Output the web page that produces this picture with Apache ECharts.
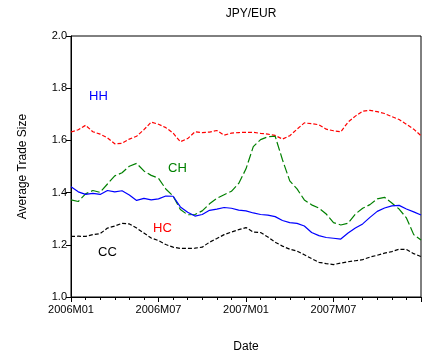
<!DOCTYPE html>
<html>
<head>
<meta charset="utf-8">
<script src="https://cdn.jsdelivr.net/npm/echarts@6/dist/echarts.min.js"></script>
<style>
  html, body { margin: 0; padding: 0; background: #fff; }
  #chart { width: 430px; height: 360px; }
</style>
</head>
<body>
<div id="chart"></div>
<script>
// Position of each observation in months since 2006M01 (half-month steps)
const monthPos = [0, 0.5, 1, 1.5, 2, 2.5, 3, 3.5, 4, 4.5, 5, 5.5, 6, 6.5, 7, 7.5,
  8, 8.5, 9, 9.5, 10, 10.5, 11, 11.5, 12, 12.5, 13, 13.5, 14, 14.5, 15, 15.5,
  16, 16.5, 17, 17.5, 18, 18.5, 19, 19.5, 20, 20.5, 21, 21.5, 22, 22.5, 23, 23.5, 24];

// Month labels for the major ticks (every six months)
const tickLabels = ['2006M01', '2006M07', '2007M01', '2007M07'];

// Average trade size, JPY/EUR
const seriesHH = [1.632, 1.641, 1.658, 1.633, 1.624, 1.610, 1.587, 1.589, 1.605, 1.616,
  1.641, 1.670, 1.662, 1.649, 1.628, 1.595, 1.607, 1.633, 1.630, 1.632,
  1.638, 1.620, 1.628, 1.630, 1.631, 1.631, 1.627, 1.624, 1.619, 1.605,
  1.618, 1.643, 1.667, 1.664, 1.660, 1.643, 1.637, 1.633, 1.670, 1.693,
  1.712, 1.715, 1.710, 1.703, 1.691, 1.680, 1.662, 1.643, 1.618];

const seriesCH = [1.372, 1.366, 1.395, 1.408, 1.401, 1.433, 1.464, 1.476, 1.501, 1.512,
  1.483, 1.466, 1.455, 1.414, 1.387, 1.335, 1.315, 1.316, 1.330, 1.357,
  1.378, 1.392, 1.405, 1.435, 1.491, 1.576, 1.603, 1.614, 1.616, 1.526,
  1.445, 1.414, 1.372, 1.353, 1.341, 1.318, 1.285, 1.276, 1.283, 1.318,
  1.340, 1.354, 1.376, 1.382, 1.360, 1.337, 1.303, 1.239, 1.218];

const seriesHC = [1.422, 1.403, 1.393, 1.397, 1.393, 1.408, 1.403, 1.407, 1.391, 1.370,
  1.378, 1.372, 1.376, 1.387, 1.386, 1.345, 1.325, 1.310, 1.316, 1.332,
  1.337, 1.343, 1.340, 1.333, 1.330, 1.322, 1.316, 1.314, 1.308, 1.293,
  1.285, 1.282, 1.272, 1.247, 1.235, 1.228, 1.225, 1.222, 1.245, 1.264,
  1.280, 1.305, 1.328, 1.341, 1.349, 1.351, 1.337, 1.326, 1.314];

const seriesCC = [1.232, 1.233, 1.232, 1.239, 1.243, 1.264, 1.272, 1.282, 1.280, 1.264,
  1.245, 1.226, 1.216, 1.201, 1.191, 1.186, 1.186, 1.187, 1.191, 1.210,
  1.224, 1.239, 1.249, 1.258, 1.266, 1.249, 1.247, 1.230, 1.210, 1.195,
  1.183, 1.176, 1.162, 1.147, 1.133, 1.128, 1.124, 1.130, 1.135, 1.139,
  1.143, 1.153, 1.160, 1.168, 1.174, 1.183, 1.182, 1.166, 1.155];

const FONT = 'Liberation Sans, Arial, sans-serif';

function pairs(values) {
  return values.map((v, i) => [monthPos[i], v]);
}

function lineSeries(name, values, color, dash) {
  return {
    name: name,
    type: 'line',
    data: pairs(values),
    showSymbol: false,
    animation: false,
    lineStyle: { color: color, width: 1.2, type: dash }
  };
}

const chart = echarts.init(document.getElementById('chart'), null, { renderer: 'canvas' });

chart.setOption({
  backgroundColor: '#fff',
  animation: false,
  title: {
    text: 'JPY/EUR',
    left: 246,
    top: 3,
    textAlign: 'center',
    textStyle: { fontFamily: FONT, fontSize: 12, fontWeight: 'normal', color: '#000' }
  },
  grid: {
    left: 71, right: 9, top: 36, bottom: 63,
    show: true, borderColor: '#000', borderWidth: 1, backgroundColor: 'transparent'
  },
  xAxis: {
    type: 'value',
    min: 0, max: 24, interval: 6,
    name: 'Date',
    nameLocation: 'middle',
    nameGap: 44,
    nameTextStyle: { fontFamily: FONT, fontSize: 12, color: '#000' },
    axisLine: { show: true, lineStyle: { color: '#000', width: 1 } },
    axisTick: { show: true, inside: false, length: 5, lineStyle: { color: '#000' } },
    minorTick: { show: true, splitNumber: 6, length: 3, lineStyle: { color: '#000' } },
    splitLine: { show: false },
    axisLabel: {
      fontFamily: FONT, fontSize: 11, color: '#000', margin: 7,
      formatter: v => tickLabels[Math.round(v / 6)] || ''
    }
  },
  yAxis: {
    type: 'value',
    min: 1, max: 2, interval: 0.2,
    name: 'Average Trade Size',
    nameLocation: 'middle',
    nameGap: 42,
    nameTextStyle: { fontFamily: FONT, fontSize: 12, color: '#000' },
    axisLine: { show: true, lineStyle: { color: '#000', width: 1 } },
    axisTick: { show: true, inside: false, length: 5, lineStyle: { color: '#000' } },
    splitLine: { show: false },
    axisLabel: {
      fontFamily: FONT, fontSize: 11, color: '#000', margin: 4,
      formatter: v => v.toFixed(1)
    }
  },
  series: [
    lineSeries('HH', seriesHH, '#ff0000', [4, 2]),
    lineSeries('CH', seriesCH, '#008000', [9, 3]),
    lineSeries('HC', seriesHC, '#0000ff', 'solid'),
    lineSeries('CC', seriesCC, '#000000', [4, 2])
  ],
  graphic: [
    { type: 'text', left: 89, top: 90, style: { text: 'HH', fill: '#0000ff', font: '13px ' + FONT } },
    { type: 'text', left: 168, top: 162, style: { text: 'CH', fill: '#008000', font: '13px ' + FONT } },
    { type: 'text', left: 153, top: 222, style: { text: 'HC', fill: '#ff0000', font: '13px ' + FONT } },
    { type: 'text', left: 98, top: 246, style: { text: 'CC', fill: '#000000', font: '13px ' + FONT } }
  ]
});
</script>
</body>
</html>
